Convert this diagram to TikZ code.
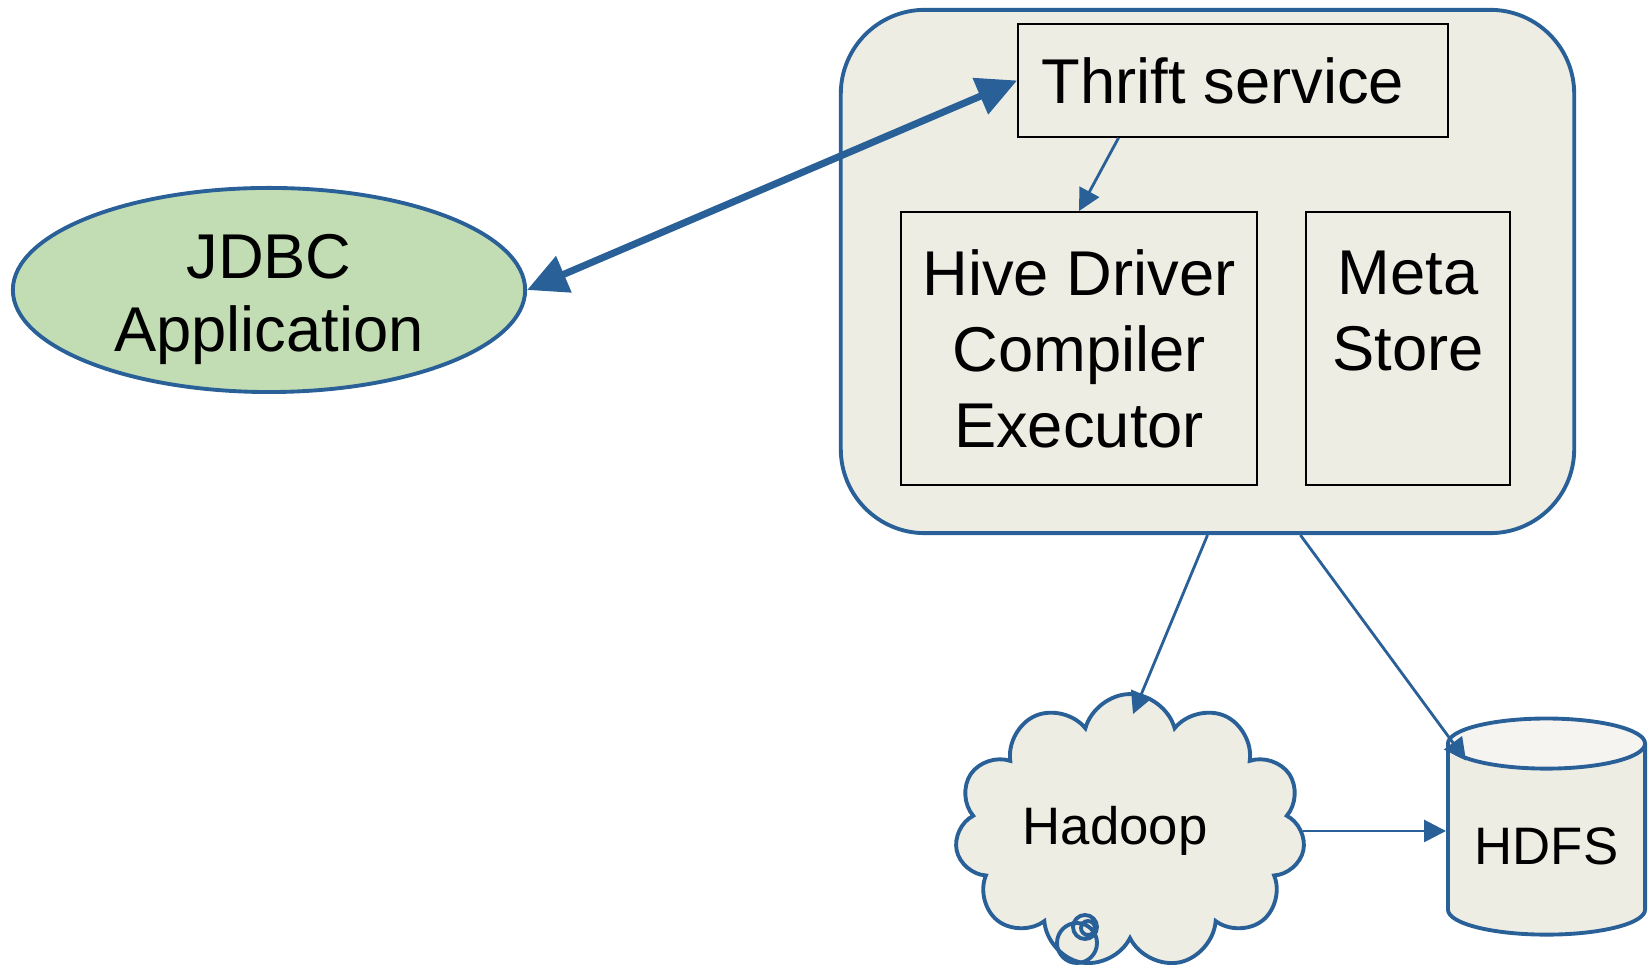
\documentclass[tikz,border=0pt]{standalone}
\usepackage{fontspec}
\setmainfont{Liberation Sans}
\usetikzlibrary{shapes.geometric,shapes.symbols,arrows.meta,calc}
\definecolor{hiveblue}{RGB}{42,96,152}
\definecolor{hivepaper}{RGB}{238,237,228}
\definecolor{hivegreen}{RGB}{194,220,180}
\definecolor{hivetop}{RGB}{245,244,240}
\begin{document}
\begin{tikzpicture}[x=0.01cm,y=-0.01cm,
        box/.style={draw=black, line width=0.45pt, fill=hivepaper, align=center,
            font=\fontsize{18}{21.6}\selectfont},
        link/.style={draw=hiveblue, line width=0.8pt,
            -{Triangle[length=0.22cm,width=0.22cm]}}]
        \useasboundingbox (0,0) rectangle (1648,965);

        % Server side: Hive server with its parts
        \node[draw=hiveblue, line width=1.1pt, fill=hivepaper, rounded corners=0.84cm,
            minimum width=7.33cm, minimum height=5.23cm] (server) at (1207.5,271.5) {};
        \node[box, minimum width=4.30cm, minimum height=1.13cm] (thrift) at (1233,80.5)
            {Thrift service\hspace{0.2cm}};
        \node[box, minimum width=3.56cm, minimum height=2.73cm] (hive) at (1079,348.5)
            {Hive Driver\\Compiler\\Executor};
        \node[box, minimum width=2.04cm, minimum height=2.73cm] (meta) at (1408,348.5)
            {Meta\\Store\\~};

        % Client
        \node[ellipse, draw=hiveblue, line width=1.1pt, fill=hivegreen, inner xsep=0pt,
            inner ysep=-0.4cm, minimum width=5.12cm, minimum height=2.04cm, align=center,
            font=\fontsize{18}{21}\selectfont] (jdbc) at (269,290)
            {\rule{0pt}{18pt}JDBC\\Application};

        % Storage and compute
        \node[cloud, cloud puffs=11, aspect=1.4, draw=hiveblue, line width=1.1pt,
            fill=hivepaper, inner sep=0pt, minimum width=3.5cm, minimum height=2.45cm,
            font=\fontsize{15}{18}\selectfont] (hadoop) at (1130,831) {Hadoop\rule{0.3cm}{0pt}};
        \draw[hiveblue, line width=1.1pt] ($(hadoop.center)+(-53,112)$) circle (20)
            ($(hadoop.center)+(-45,96)$) circle (12)
            ($(hadoop.center)+(-42,97)$) circle (7);
        \node[cylinder, shape border rotate=90, aspect=0.3, draw=hiveblue, line width=1.1pt,
            cylinder uses custom fill, cylinder body fill=hivepaper, cylinder end fill=hivetop,
            minimum width=1.97cm, minimum height=2.16cm,
            font=\fontsize{15}{18}\selectfont] (hdfs) at (1546.5,846) {HDFS};

        % Connectors
        \draw[link, line width=2pt, {Triangle[length=0.4cm,width=0.38cm]}-{Triangle[length=0.4cm,width=0.38cm]}]
            (jdbc.east) -- (thrift.west);
        \draw[link] ($(thrift.south west)!0.235!(thrift.south east)$) -- (hive.north);
        \draw[link] (server.south) -- ($(hadoop.north)+(3,22)$);
        \draw[link] ($(server.south west)!0.626!(server.south east)$) -- ($(hdfs.north west)+(20,15)$);
        \draw[link] (hadoop.east) -- (hadoop.east -| hdfs.west);
    \end{tikzpicture}
\end{document}
